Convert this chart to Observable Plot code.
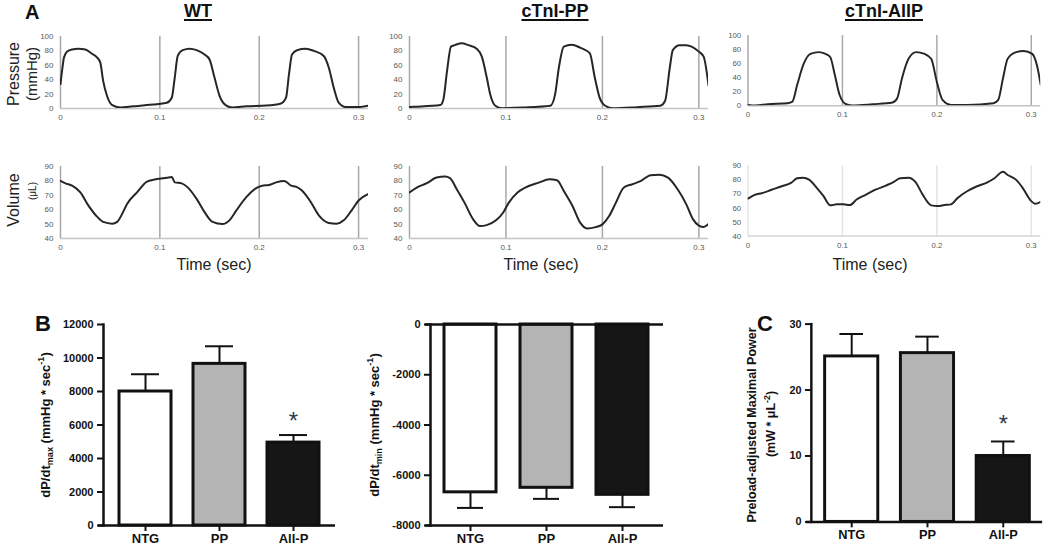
<!DOCTYPE html>
<html><head><meta charset="utf-8">
<script src="https://cdn.jsdelivr.net/npm/d3@7"></script>
<script src="https://cdn.jsdelivr.net/npm/@observablehq/plot@0.6"></script>
<style>
html,body{margin:0;padding:0;background:#fff}
#fig{position:relative;width:1050px;height:546px;overflow:hidden;font-family:Arial,"Liberation Sans",Helvetica,sans-serif;color:#222}
.lbl{position:absolute;white-space:nowrap;line-height:1}
.rot{transform:translate(-50%,-50%) rotate(-90deg)}
sub,sup{font-size:0.7em;line-height:0}
</style></head><body><div id="fig"></div><script>
// ---------- data ----------
const timeTicks = [0, 0.1, 0.2, 0.3];
const pressureTicks = [0, 20, 40, 60, 80, 100];
const volumeTicks = [40, 50, 60, 70, 80, 90];
const panelTitles = ["WT", "cTnI-PP", "cTnI-AllP"];

const wtPressure = [[0,34],[0.002,57],[0.0035,71],[0.0067,79],[0.0117,82],[0.018,83],[0.025,82],[0.0317,76],[0.0367,71],[0.04,64],[0.043,38],[0.0467,18],[0.0517,5],[0.06,1.5],[0.073,3],[0.093,5.5],[0.107,8],[0.112,15],[0.115,43],[0.118,73],[0.123,81],[0.13,83],[0.137,81],[0.145,75],[0.15,68],[0.155,43],[0.16,18],[0.167,4],[0.173,1.5],[0.187,3],[0.207,4],[0.222,7],[0.227,15],[0.23,48],[0.233,75],[0.238,81],[0.247,83],[0.255,80],[0.265,73],[0.27,57],[0.275,29],[0.28,8],[0.287,2],[0.3,2],[0.31,4]];
const wtVolume = [[0,80],[0.005,78.3],[0.0117,76.7],[0.02,72],[0.028,63],[0.037,55],[0.043,51.5],[0.052,50.3],[0.057,51.5],[0.062,57],[0.067,64],[0.077,72],[0.087,79.5],[0.097,81.3],[0.107,82.2],[0.112,82.7],[0.115,79],[0.122,78.3],[0.128,75.5],[0.137,67.5],[0.145,58.3],[0.153,51.5],[0.163,50],[0.17,52.6],[0.177,59.5],[0.187,68.7],[0.197,75],[0.203,76.7],[0.21,77.2],[0.217,79],[0.225,80],[0.228,79],[0.232,76.7],[0.237,76],[0.243,73.3],[0.252,65.2],[0.26,56],[0.27,50.8],[0.278,50.3],[0.285,52.6],[0.293,59.5],[0.3,66.4],[0.31,71]];
const ppPressure = [[0,2],[0.004,2.3],[0.032,4.7],[0.035,11.7],[0.039,53],[0.043,86],[0.047,88],[0.054,90.6],[0.061,88],[0.07,82.6],[0.075,72],[0.08,43.7],[0.084,18],[0.089,3.8],[0.096,0.5],[0.118,1.4],[0.146,3.8],[0.151,20],[0.155,58],[0.16,86],[0.168,88.7],[0.177,84.5],[0.187,76.5],[0.192,43.7],[0.197,15.5],[0.203,3.8],[0.211,0.5],[0.236,1.9],[0.26,3.8],[0.265,10.8],[0.27,58],[0.273,81],[0.28,88],[0.287,88],[0.3,79],[0.305,72],[0.31,32]];
const ppVolume = [[0,72],[0.0075,75.3],[0.018,78.4],[0.028,82.3],[0.037,83],[0.042,81.9],[0.049,74.2],[0.057,64.9],[0.066,53.3],[0.073,48.6],[0.08,49.3],[0.09,52.8],[0.097,57.9],[0.103,64.9],[0.112,71.9],[0.12,75.3],[0.134,78.8],[0.145,81.2],[0.153,80.5],[0.16,73],[0.169,62.6],[0.177,51],[0.184,47],[0.193,47.9],[0.2,49.8],[0.207,55.6],[0.214,64.9],[0.222,75.3],[0.231,77.7],[0.24,80],[0.25,84],[0.259,84.2],[0.268,82.3],[0.278,74.2],[0.287,63.7],[0.294,53.3],[0.3,49],[0.305,48],[0.31,50]];
const allpPressure = [[0,1.4],[0.0076,0.5],[0.021,2.3],[0.042,3.8],[0.047,6],[0.052,29.6],[0.059,60],[0.066,74],[0.075,76.5],[0.082,74],[0.087,69.5],[0.092,43.7],[0.097,15.5],[0.104,2.3],[0.111,0.5],[0.132,2.3],[0.153,4.7],[0.158,10.8],[0.163,39],[0.17,67],[0.178,76.5],[0.187,74],[0.194,67],[0.2,34],[0.206,8.5],[0.215,1.4],[0.232,1.4],[0.26,3.8],[0.265,8.5],[0.27,39],[0.275,67],[0.284,76.5],[0.292,78],[0.301,74],[0.306,57.7],[0.31,30]];
const allpVolume = [[0,66.7],[0.0076,69.5],[0.0145,70.5],[0.025,73],[0.035,75.3],[0.046,78.1],[0.052,81.2],[0.058,81.6],[0.065,80],[0.073,74.2],[0.08,68.4],[0.087,61.9],[0.094,62.6],[0.101,62.6],[0.108,62.1],[0.115,66],[0.125,69.5],[0.135,73],[0.146,76],[0.154,78.4],[0.161,81.2],[0.17,81.6],[0.177,78.8],[0.185,69.5],[0.194,61.9],[0.201,61.4],[0.208,62.1],[0.215,62.6],[0.222,67.2],[0.232,71.9],[0.242,75.3],[0.253,78.1],[0.261,81.2],[0.27,85.8],[0.275,83.5],[0.284,80],[0.291,74.2],[0.3,64.9],[0.304,63],[0.31,64.4]];

const groups = ["NTG", "PP", "All-P"];
const fills = ["#ffffff", "#b4b4b4", "#161616"];
const dpdtMax = [8000, 9650, 4950];
const dpdtMaxSem = [1030, 1050, 450];
const dpdtMaxSig = ["", "", "*"];
const dpdtMaxTicks = [0, 2000, 4000, 6000, 8000, 10000, 12000];
const dpdtMin = [-6680, -6500, -6780];
const dpdtMinSem = [620, 440, 490];
const dpdtMinSig = ["", "", ""];
const dpdtMinTicks = [-8000, -6000, -4000, -2000, 0];
const power = [25.1, 25.6, 10.0];
const powerSem = [3.4, 2.5, 2.2];
const powerSig = ["", "", "*"];
const powerTicks = [0, 10, 20, 30];

// ---------- layout ----------
const FONT = 'Arial, "Liberation Sans", Helvetica, sans-serif';
const fig = document.getElementById("fig");
function place(node, left, top) {
  const d = document.createElement("div");
  d.style.cssText = `position:absolute;left:${left}px;top:${top}px;`;
  d.appendChild(node);
  fig.appendChild(d);
}
function label(html, left, top, css, cls = "") {
  const d = document.createElement("div");
  d.className = "lbl " + cls;
  d.innerHTML = html;
  d.style.cssText += `left:${left}px;top:${top}px;${css}`;
  fig.appendChild(d);
}
const fmtT = d => d === 0 ? "0" : d.toFixed(1);

function trace(series, kind, x0, x1, gridColor, baseColor) {
  const isP = kind === "p";
  const chart = Plot.plot({
    width: x1 - x0 + 70, height: isP ? 128 : 120,
    marginLeft: 60, marginRight: 10,
    marginTop: isP ? 36 : 26, marginBottom: isP ? 20 : 22,
    x: {domain: [0, 0.31]},
    y: {domain: isP ? [0, 100] : [40, 90]},
    style: {fontFamily: FONT, fontSize: "8px", color: "#595959", background: "transparent", overflow: "visible"},
    marks: [
      Plot.ruleX(timeTicks, {stroke: gridColor, strokeWidth: 1.5}),
      Plot.ruleY([isP ? 0 : 40], {stroke: baseColor, strokeWidth: 1.5}),
      Plot.axisX(timeTicks, {tickSize: 0, tickPadding: 6, tickFormat: fmtT, label: null}),
      Plot.axisY(isP ? pressureTicks : volumeTicks, {tickSize: 0, tickPadding: 7, label: null}),
      Plot.line(series, {x: d => d[0], y: d => d[1], stroke: "#262626", strokeWidth: 2, curve: "monotone-x", clip: true})
    ]
  });
  place(chart, x0 - 60, isP ? 0 : 140);
}

const xs = [[60, 368], [409, 708], [749, 1049]];
trace(wtPressure, "p", ...xs[0], "#a8a8a8", "#c4c4c4");
trace(ppPressure, "p", ...xs[1], "#a8a8a8", "#c4c4c4");
trace(allpPressure, "p", ...xs[2], "#a8a8a8", "#c4c4c4");
trace(wtVolume, "v", ...xs[0], "#a8a8a8", "#c4c4c4");
trace(ppVolume, "v", ...xs[1], "#a8a8a8", "#c4c4c4");
trace(allpVolume, "v", ...xs[2], "#e4e4e4", "#d4d4d4");

function bars(values, sems, sig, dir, yDomain, yTicks, left, marginLeft, frameRight, pi, po, capInset, starDy, baseLines) {
  const rows = groups.map((g, i) => ({g, v: values[i], e: values[i] + dir * sems[i], f: fills[i], s: sig[i]}));
  const chart = Plot.plot({
    width: frameRight - left + 8, height: 246,
    marginLeft, marginRight: 8, marginTop: 24, marginBottom: 21,
    x: {domain: groups, paddingInner: pi, paddingOuter: po},
    y: {domain: yDomain},
    color: {type: "identity"},
    style: {fontFamily: FONT, fontSize: "11px", fontWeight: "bold", color: "#111", background: "transparent", overflow: "visible"},
    marks: [
      Plot.ruleX(rows, {x: "g", y1: "v", y2: "e", stroke: "#111", strokeWidth: 2}),
      Plot.tickY(rows, {x: "g", y: "e", stroke: "#111", strokeWidth: 2, inset: capInset}),
      Plot.barY(rows, {x: "g", y: "v", fill: "f", stroke: "#111", strokeWidth: 3}),
      Plot.text(rows, {x: "g", y: "e", text: "s", dy: starDy, fontSize: 24, fontWeight: "normal", fill: "#2f3a4f"}),
      Plot.ruleY(baseLines, {stroke: "#111", strokeWidth: 2.5, insetLeft: -5}),
      Plot.frame({anchor: "left", stroke: "#111", strokeWidth: 2.5}),
      Plot.axisY(yTicks, {tickSize: 6, tickPadding: 4, strokeWidth: 2, tickFormat: d => String(d), label: null}),
      Plot.axisX({tickSize: 6, tickPadding: 2, strokeWidth: 2, fontSize: 13, label: null})
    ]
  });
  place(chart, left, 300);
}
bars(dpdtMax, dpdtMaxSem, dpdtMaxSig, 1, [0, 12000], dpdtMaxTicks, 0, 103, 335, 0.3, 0.2, 12, -14, [0]);
bars(dpdtMin, dpdtMinSem, dpdtMinSig, -1, [-8000, 0], dpdtMinTicks, 360, 70, 663, 0.31, 0.17, 13, -14, [0, -8000]);
bars(power, powerSem, powerSig, 1, [0, 30], powerTicks, 740, 72, 1047, 0.3, 0.17, 15, -17, [0]);

// ---------- text ----------
label("A", 25, 2, "font-size:20px;font-weight:bold;color:#111");
const titleCx = [198, 555, 884];
panelTitles.forEach((t, i) => label(t, titleCx[i], 2.3,
  "font-size:18px;font-weight:bold;color:#111;transform:translateX(-50%);text-decoration:underline;text-decoration-thickness:2px;text-underline-offset:2px"));
label("Pressure", 14, 73.5, "font-size:16px;color:#222", "rot");
label("(mmHg)", 31, 73.5, "font-size:15px;color:#222", "rot");
label("Volume", 14, 199.5, "font-size:16px;color:#222", "rot");
label("(μL)", 33, 191, "font-size:10px;color:#222", "rot");
[214, 541, 870].forEach(cx => label("Time (sec)", cx, 256.5, "font-size:16px;color:#222;transform:translateX(-50%)"));

label("B", 35, 313.4, "font-size:22px;font-weight:bold;color:#111");
label("C", 757, 313.4, "font-size:22px;font-weight:bold;color:#111");
label("dP/dt<sub>max</sub> (mmHg * sec<sup>-1</sup>)", 45, 425, "font-size:13px;font-weight:bold;color:#111", "rot");
label("dP/dt<sub>min</sub> (mmHg * sec<sup>-1</sup>)", 374, 425, "font-size:13px;font-weight:bold;color:#111", "rot");
label("Preload-adjusted Maximal Power", 752, 425, "font-size:12.5px;font-weight:bold;color:#111", "rot");
label("(mW * μL<sup>-2</sup>)", 771, 424, "font-size:12.5px;font-weight:bold;color:#111", "rot");
</script></body></html>
